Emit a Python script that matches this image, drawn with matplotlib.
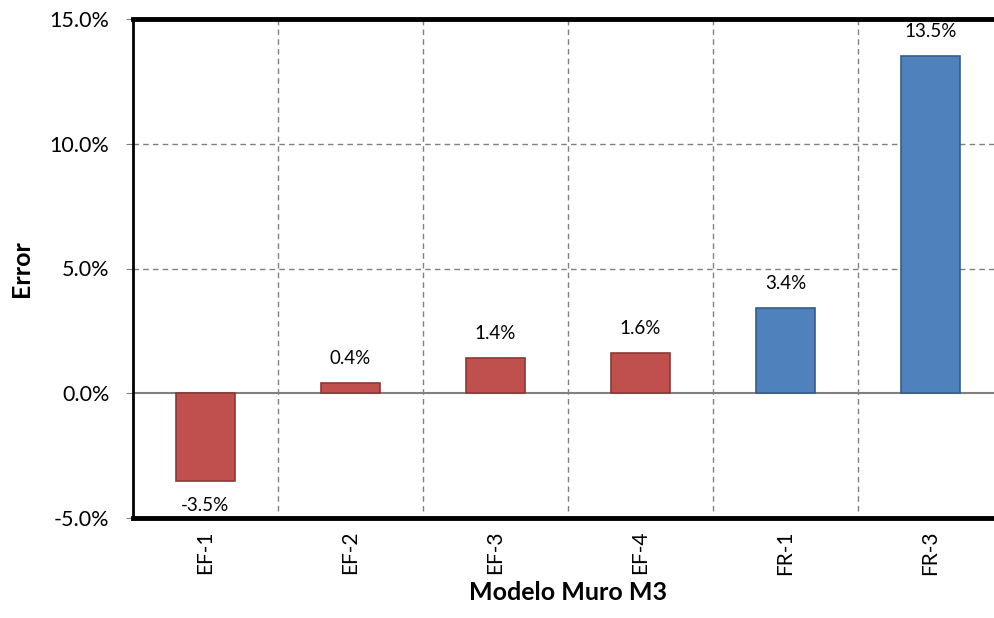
import numpy as np
from matplotlib import pyplot as plt
from matplotlib.ticker import FuncFormatter

plt.rcParams['font.family'] = ['Lato', 'DejaVu Sans']

modelos = ['EF-1', 'EF-2', 'EF-3', 'EF-4', 'FR-1', 'FR-3']
errores = [-3.5, 0.4, 1.4, 1.6, 3.4, 13.5]
colores = ['#C0504D'] * 4 + ['#4F81BD'] * 2
bordes = ['#8C3836'] * 4 + ['#385D8A'] * 2

fig = plt.figure(figsize=(9.95, 6.18), dpi=100)
ax = fig.add_axes([133 / 995, 100 / 618, 870 / 995, 499 / 618])

x = np.arange(len(modelos))
ax.bar(x, errores, width=0.41, color=colores, edgecolor=bordes, linewidth=1.2, zorder=3)

# etiquetas de valor
for xi, v in zip(x, errores):
    off = 1.0 if v >= 0 else -1.0
    ax.text(xi, v + off, f'{v:.1f}%', ha='center', va='center', fontsize=13.5)

ax.set_xlim(-0.5, len(modelos) - 0.5)
ax.set_ylim(-5, 15)
ax.set_yticks([-5, 0, 5, 10, 15])
ax.yaxis.set_major_formatter(FuncFormatter(lambda v, p: f'{v:.1f}%'))
ax.set_xticks(x)
ax.set_xticklabels(modelos, rotation=90, fontsize=15)
ax.tick_params(axis='y', labelsize=15.5, length=5, color='#808080', pad=12)
ax.tick_params(axis='x', length=0, pad=9)

# rejilla
for gx in np.arange(0.5, len(modelos) - 0.5, 1):
    ax.plot([gx, gx], [-4.7, 15], color='#808080', linestyle=(0, (4, 3)), linewidth=1, zorder=1)
for gy in [5, 10]:
    ax.axhline(gy, color='#808080', linestyle=(0, (4, 3)), linewidth=1, zorder=1)
ax.axhline(0, color='#808080', linewidth=1.5, zorder=2)

ax.spines['top'].set_linewidth(3.5)
ax.spines['bottom'].set_linewidth(3.5)
ax.spines['left'].set_linewidth(2)
ax.spines['right'].set_visible(False)
for s in ['top', 'bottom', 'left']:
    ax.spines[s].set_color('black')

ax.set_ylabel('Error', fontsize=18, fontweight='bold', labelpad=12)
ax.set_xlabel('Modelo Muro M3', fontsize=18, fontweight='bold', labelpad=4)

fig.savefig('out.png', dpi=100)
